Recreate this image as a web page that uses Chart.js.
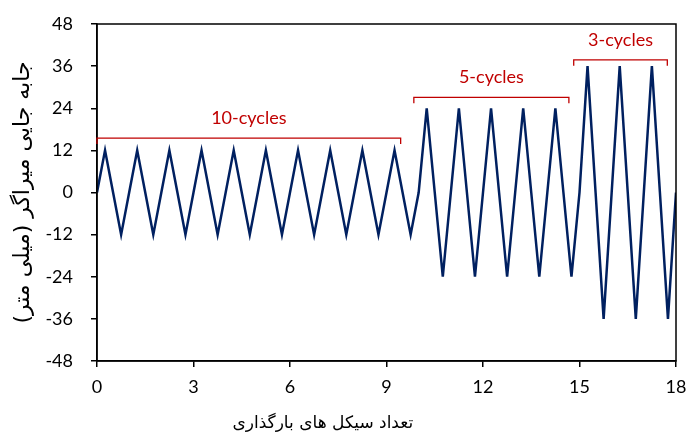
<!DOCTYPE html>
<html>
<head>
<meta charset="utf-8">
<script src="https://cdn.jsdelivr.net/npm/chart.js@4"></script>
<style>
  html, body { margin: 0; padding: 0; background: #fff; }
  #wrap { width: 686px; height: 432px; }
</style>
</head>
<body>
<div id="wrap"><canvas id="damper_chart" width="686" height="432"></canvas></div>
<script>
// loading cycles (x) and damper displacement in mm (y)
const cycleX = [
  0, 0.25, 0.5, 0.75, 1, 1.25, 1.5, 1.75, 2, 2.25, 2.5, 2.75,
  3, 3.25, 3.5, 3.75, 4, 4.25, 4.5, 4.75, 5, 5.25, 5.5, 5.75,
  6, 6.25, 6.5, 6.75, 7, 7.25, 7.5, 7.75, 8, 8.25, 8.5, 8.75,
  9, 9.25, 9.5, 9.75, 10, 10.25, 10.5, 10.75, 11, 11.25, 11.5, 11.75,
  12, 12.25, 12.5, 12.75, 13, 13.25, 13.5, 13.75, 14, 14.25, 14.5, 14.75,
  15, 15.25, 15.5, 15.75, 16, 16.25, 16.5, 16.75, 17, 17.25, 17.5, 17.75,
  18
];
const displacement = [
  0, 12, 0, -12, 0, 12, 0, -12, 0, 12, 0, -12,
  0, 12, 0, -12, 0, 12, 0, -12, 0, 12, 0, -12,
  0, 12, 0, -12, 0, 12, 0, -12, 0, 12, 0, -12,
  0, 12, 0, -12, 0, 24, 0, -24, 0, 24, 0, -24,
  0, 24, 0, -24, 0, 24, 0, -24, 0, 24, 0, -24,
  0, 36, 0, -36, 0, 36, 0, -36, 0, 36, 0, -36,
  0
];

// bracket annotations
const bracketLabels = ["10-cycles", "5-cycles", "3-cycles"];
const bracketStart = [0, 9.85, 14.82];
const bracketEnd = [9.44, 14.67, 17.73];
const bracketLevel = [15.5, 27.1, 37.8];

const yTitle = "جابه جایی میراگر (میلی متر)";
const xTitle = "تعداد سیکل های بارگذاری";

const points = cycleX.map((x, i) => ({ x: x, y: displacement[i] }));

const annotationPlugin = {
  id: "brackets",
  afterDatasetsDraw(chart) {
    const ctx = chart.ctx;
    const xs = chart.scales.x;
    const ys = chart.scales.y;
    const area = chart.chartArea;
    ctx.save();
    // frame
    ctx.strokeStyle = "#000";
    ctx.lineWidth = 1.5;
    ctx.strokeRect(area.left, area.top, area.right - area.left, area.bottom - area.top);

    ctx.strokeStyle = "#c00000";
    ctx.fillStyle = "#c00000";
    ctx.lineWidth = 1.3;
    ctx.font = "18px Lato, 'DejaVu Sans', sans-serif";
    ctx.textAlign = "center";
    ctx.textBaseline = "middle";
    bracketLabels.forEach((label, i) => {
      const x1 = xs.getPixelForValue(bracketStart[i]);
      const x2 = xs.getPixelForValue(bracketEnd[i]);
      const y = ys.getPixelForValue(bracketLevel[i]);
      ctx.beginPath();
      ctx.moveTo(x1, y + 6);
      ctx.lineTo(x1, y);
      ctx.lineTo(x2, y);
      ctx.lineTo(x2, y + 6);
      ctx.stroke();
      ctx.fillText(label, (x1 + x2) / 2, y - 20);
    });

    // x axis title
    ctx.fillStyle = "#000";
    ctx.font = "17px 'DejaVu Sans', sans-serif";
    ctx.fillText(xTitle, area.left + (area.right - area.left) * 0.39, 424);
    ctx.restore();
  },
};

new Chart(document.getElementById("damper_chart"), {
  type: "line",
  data: {
    datasets: [
      {
        data: points,
        borderColor: "#002060",
        borderWidth: 2.5,
        pointRadius: 0,
        tension: 0,
        fill: false,
      },
    ],
  },
  options: {
    responsive: false,
    animation: false,
    layout: {
      padding: { left: 0, right: 10, top: 24, bottom: 0 },
    },
    plugins: {
      legend: { display: false },
      tooltip: { enabled: false },
    },
    scales: {
      x: {
        type: "linear",
        min: 0,
        max: 18,
        afterFit: (scale) => {
          scale.height = 71;
          scale.paddingLeft = 0;
          scale.paddingRight = 0;
        },
        ticks: {
          stepSize: 3,
          color: "#000",
          padding: 9,
          font: { family: "Lato, 'DejaVu Sans', sans-serif", size: 18 },
        },
        grid: {
          drawOnChartArea: false,
          tickLength: 6,
          color: "#000",
          lineWidth: 1.5,
        },
        border: { color: "#000", width: 1.5 },
      },
      y: {
        min: -48,
        max: 48,
        afterFit: (scale) => {
          scale.width = 97;
          scale.paddingTop = 0;
          scale.paddingBottom = 0;
        },
        ticks: {
          stepSize: 12,
          color: "#000",
          padding: 18,
          font: { family: "Lato, 'DejaVu Sans', sans-serif", size: 18 },
        },
        grid: {
          drawOnChartArea: false,
          tickLength: 6,
          color: "#000",
          lineWidth: 1.5,
        },
        border: { color: "#000", width: 1.5 },
        title: {
          display: true,
          text: yTitle,
          color: "#000",
          padding: { top: 10, bottom: 0 },
          font: { family: "'DejaVu Sans', sans-serif", size: 22 },
        },
      },
    },
  },
  plugins: [annotationPlugin],
});
</script>
</body>
</html>
